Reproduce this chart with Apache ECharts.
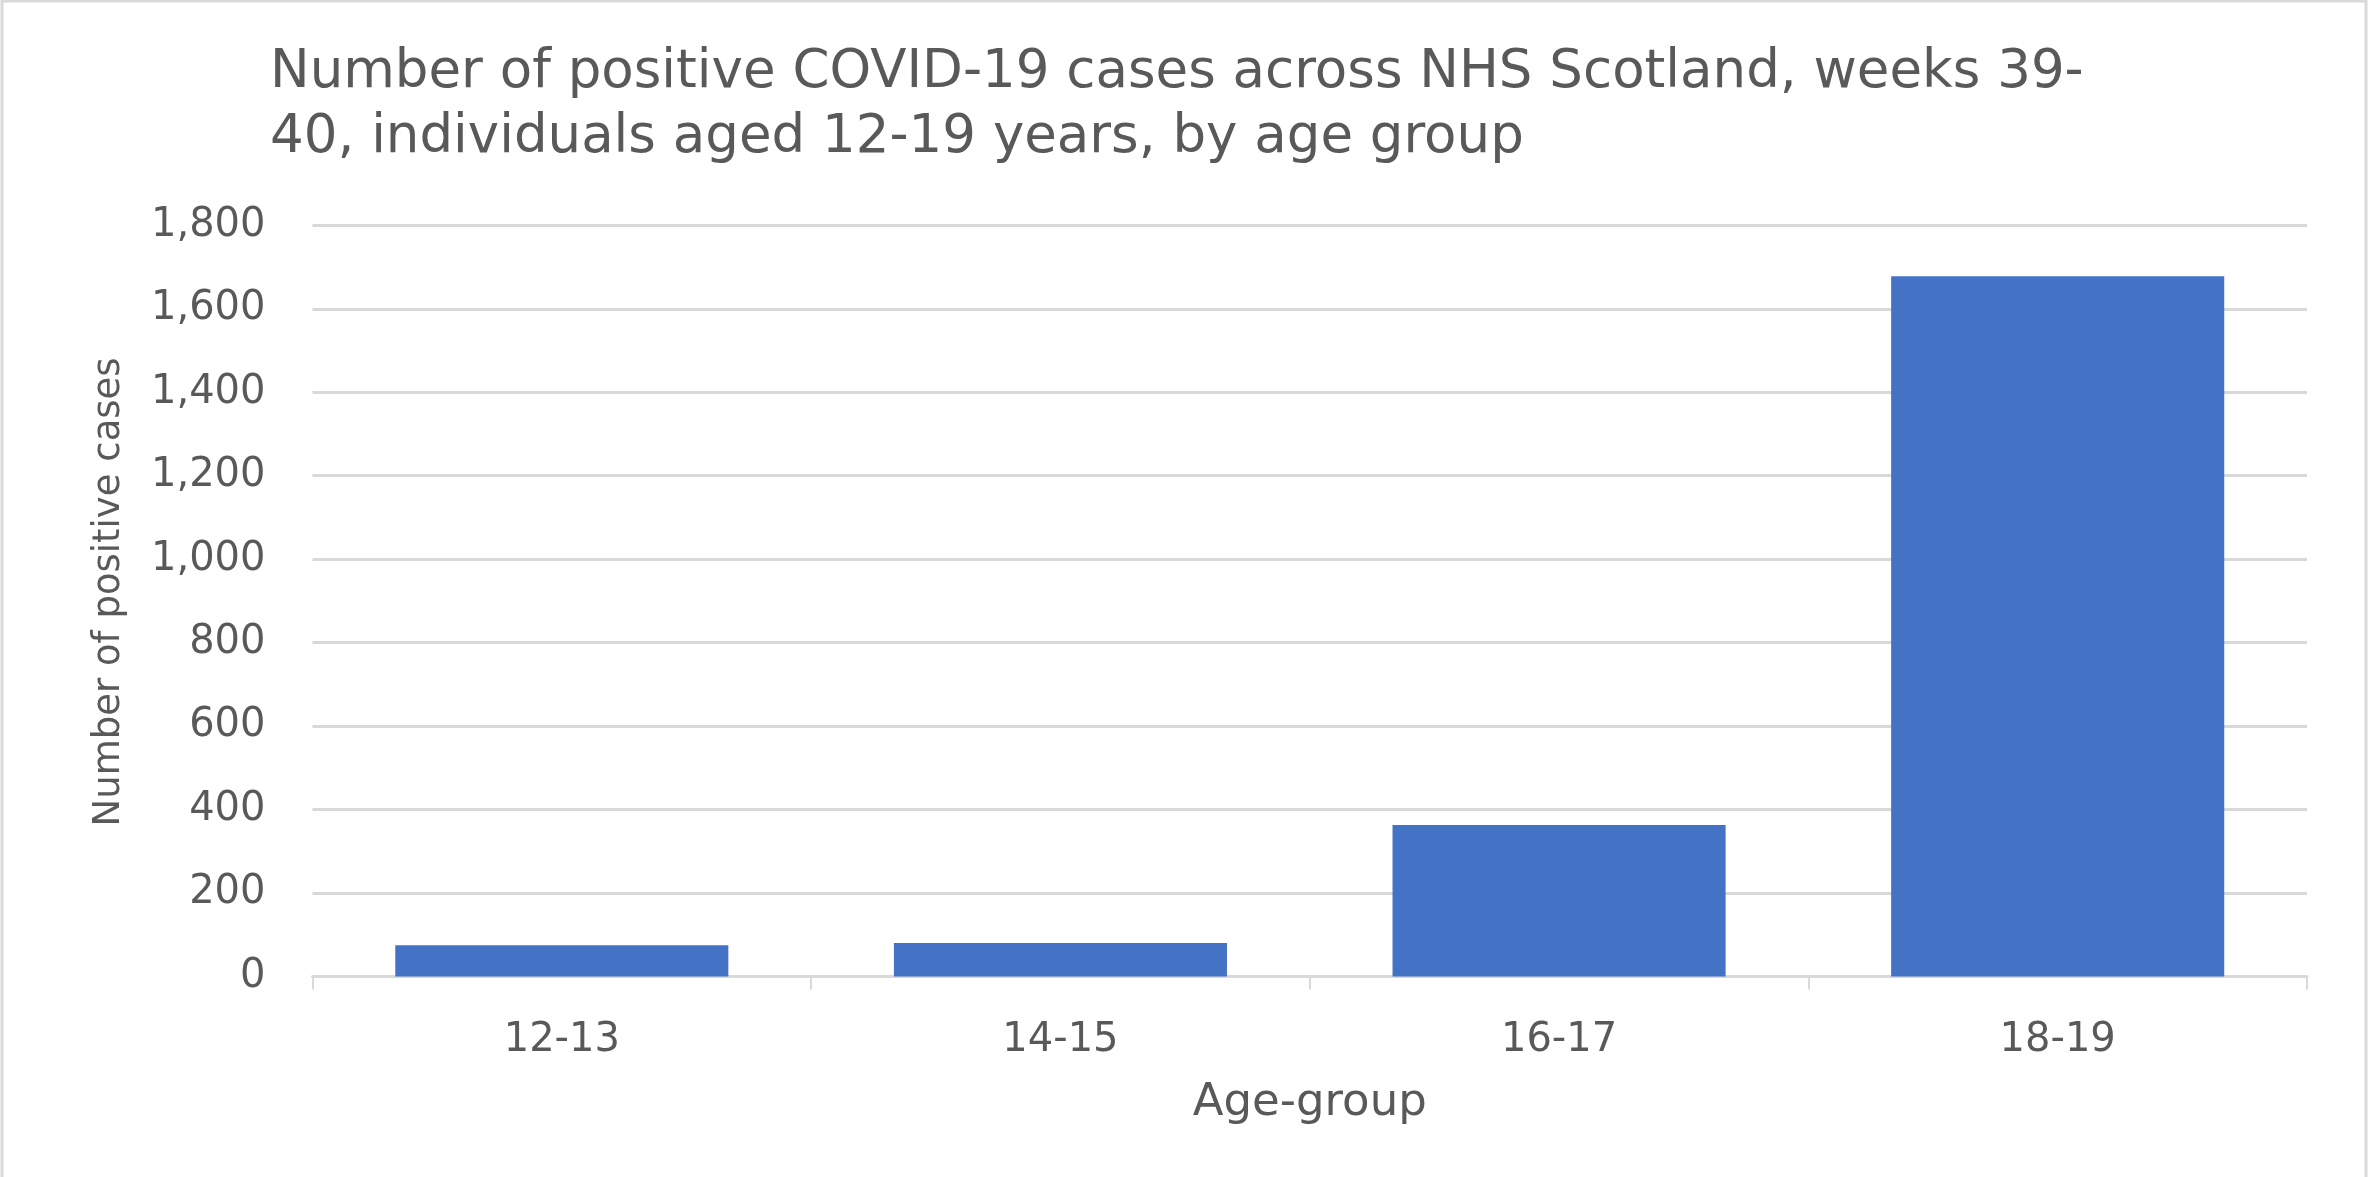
<!DOCTYPE html>
<html>
<head>
<meta charset="utf-8">
<script src="https://cdn.jsdelivr.net/npm/echarts@6/dist/echarts.min.js"></script>
<style>
html,body{margin:0;padding:0;background:#fff;}
#chart{width:2369px;height:1177px;}
</style>
</head>
<body>
<div id="chart"></div>
<script>
const titleText = "Number of positive COVID-19 cases across NHS Scotland, weeks 39-\n40, individuals aged 12-19 years, by age group";
const categories = ["12-13", "14-15", "16-17", "18-19"];
const positiveCases = [75, 80, 363, 1678];
const yAxisName = "Number of positive cases";
const xAxisName = "Age-group";

const FONT = "DejaVu Sans";
const TXT = "#595959";
const chart = echarts.init(document.getElementById('chart'), null, {renderer: 'canvas'});
chart.setOption({
  backgroundColor: '#ffffff',
  animation: false,
  graphic: [{
    type: 'rect',
    shape: {x: 2, y: 1, width: 2364, height: 1200},
    style: {fill: 'none', stroke: '#d9d9d9', lineWidth: 3},
    silent: true
  }],
  title: {
    text: titleText,
    left: 265,
    top: 36,
    textStyle: {fontFamily: FONT, fontSize: 53, fontWeight: 'normal', color: TXT, lineHeight: 65}
  },
  grid: {left: 312.5, right: 62, top: 225.3, bottom: 200.5, containLabel: false},
  xAxis: {
    type: 'category',
    data: categories,
    name: xAxisName,
    nameLocation: 'middle',
    nameGap: 104,
    nameTextStyle: {fontFamily: FONT, fontSize: 45, color: TXT},
    axisLine: {show: true, lineStyle: {color: '#d9d9d9', width: 3}},
    axisTick: {show: true, alignWithLabel: false, length: 13, lineStyle: {color: '#d9d9d9', width: 2}},
    axisLabel: {fontFamily: FONT, fontSize: 40, color: TXT, margin: 44}
  },
  yAxis: {
    type: 'value',
    min: 0,
    max: 1800,
    interval: 200,
    name: yAxisName,
    nameLocation: 'middle',
    nameRotate: 90,
    nameGap: 185,
    nameTextStyle: {fontFamily: FONT, fontSize: 37, color: TXT, padding: [0, 0, 0, 18]},
    axisLine: {show: false},
    axisTick: {show: false},
    splitLine: {show: true, lineStyle: {color: '#d9d9d9', width: 3}},
    axisLabel: {
      fontFamily: FONT, fontSize: 40, color: TXT, margin: 47,
      formatter: v => v.toLocaleString('en-US')
    }
  },
  series: [{
    type: 'bar',
    data: positiveCases,
    barCategoryGap: '33.2%',
    itemStyle: {color: '#4472c4'}
  }]
});
</script>
</body>
</html>
